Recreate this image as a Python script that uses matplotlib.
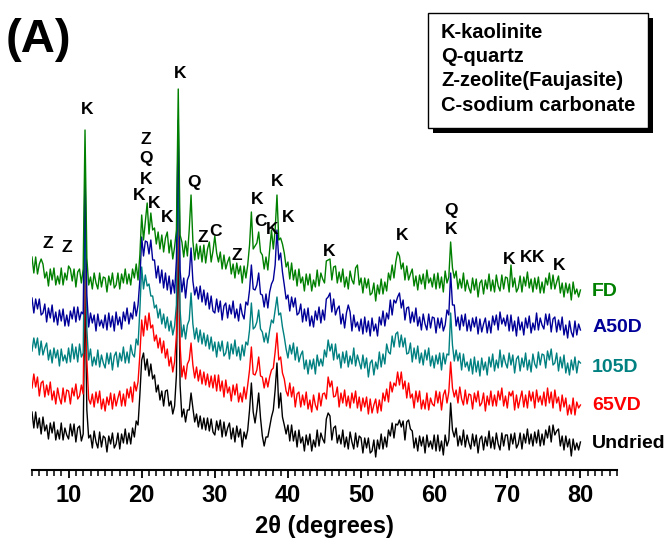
#!/usr/bin/env python3
"""XRD patterns of the dried kaolinite samples, panel (A)."""

import matplotlib

matplotlib.use("Agg")
import matplotlib.pyplot as plt
import numpy as np
from matplotlib.patches import Rectangle
from matplotlib.ticker import MultipleLocator

# 2-theta scan, 5 to 80 degrees in 0.25 degree steps (301 points)
TWO_THETA = 5.0 + 0.25 * np.arange(301)

# stacked intensities (a.u., offsets already applied), one row per 5 degrees
FD = [
    213, 197, 213, 196, 206, 211, 206, 192, 198, 184, 201, 190, 202, 185, 194, 186, 202, 185, 197, 190,
    204, 201, 189, 201, 183, 198, 201, 187, 201, 340, 212, 185, 193, 181, 197, 187, 181, 197, 183, 193,
    192, 178, 194, 185, 197, 182, 185, 197, 181, 196, 187, 201, 186, 196, 185, 201, 192, 206, 190, 215,
    255, 230, 248, 267, 236, 257, 240, 242, 226, 238, 221, 235, 218, 232, 238, 217, 230, 211, 223, 240,
    381, 235, 228, 213, 229, 214, 240, 275, 229, 210, 226, 211, 224, 208, 225, 207, 221, 228, 208, 219,
    234, 217, 208, 218, 201, 215, 201, 208, 213, 196, 206, 192, 207, 196, 204, 187, 204, 192, 205, 225,
    258, 221, 224, 227, 238, 218, 215, 201, 213, 200, 220, 240, 221, 240, 275, 230, 232, 226, 217, 203,
    208, 191, 207, 190, 200, 184, 201, 187, 193, 179, 196, 185, 196, 179, 190, 183, 200, 184, 197, 191,
    187, 209, 210, 211, 190, 203, 204, 187, 198, 188, 201, 183, 193, 181, 199, 190, 186, 202, 205, 185,
    192, 177, 192, 182, 191, 175, 177, 187, 169, 185, 176, 191, 176, 188, 179, 197, 190, 205, 192, 208,
    218, 214, 201, 207, 190, 204, 190, 196, 201, 184, 194, 180, 195, 186, 196, 181, 200, 187, 192, 183,
    196, 181, 197, 182, 193, 178, 199, 187, 193, 228, 202, 192, 199, 181, 191, 182, 197, 179, 190, 182,
    177, 192, 180, 191, 173, 187, 190, 176, 190, 181, 196, 179, 190, 178, 195, 184, 179, 195, 181, 193,
    192, 178, 205, 183, 192, 178, 182, 194, 178, 193, 184, 198, 182, 191, 178, 192, 181, 193, 177, 188,
    177, 192, 185, 197, 181, 195, 181, 188, 194, 177, 187, 173, 187, 177, 186, 170, 188, 176, 181, 173,
    180,
]
A50D = [
    172, 157, 171, 161, 171, 155, 157, 166, 148, 162, 152, 165, 148, 158, 145, 160, 149, 161, 144, 155,
    144, 159, 151, 163, 148, 163, 150, 158, 156, 300, 175, 143, 157, 147, 155, 139, 156, 144, 150, 142,
    155, 140, 157, 143, 154, 139, 158, 145, 153, 141, 158, 149, 162, 146, 157, 151, 168, 154, 165, 190,
    233, 214, 229, 228, 216, 230, 210, 210, 192, 204, 187, 200, 182, 197, 180, 194, 176, 190, 177, 210,
    350, 200, 178, 192, 172, 190, 195, 222, 189, 175, 183, 171, 184, 168, 180, 165, 177, 161, 174, 159,
    157, 171, 158, 169, 150, 164, 167, 152, 165, 156, 169, 152, 161, 149, 166, 156, 151, 168, 165, 180,
    205, 181, 180, 185, 197, 176, 175, 163, 176, 162, 178, 186, 190, 205, 240, 210, 217, 198, 185, 171,
    175, 159, 173, 163, 172, 155, 157, 166, 148, 161, 149, 162, 144, 154, 143, 159, 150, 163, 147, 160,
    150, 171, 173, 177, 158, 171, 155, 161, 164, 146, 156, 142, 157, 165, 158, 139, 155, 143, 148, 139,
    151, 136, 153, 138, 149, 134, 152, 139, 146, 134, 153, 145, 159, 144, 157, 151, 170, 155, 170, 167,
    173, 177, 162, 170, 150, 162, 163, 147, 158, 148, 162, 144, 153, 140, 156, 146, 140, 156, 142, 153,
    152, 137, 152, 142, 152, 139, 145, 160, 155, 197, 165, 165, 144, 153, 140, 155, 144, 156, 139, 150,
    139, 152, 143, 153, 136, 151, 138, 146, 152, 137, 149, 137, 154, 145, 155, 140, 158, 146, 152, 144,
    155, 139, 155, 139, 149, 134, 153, 140, 148, 135, 152, 142, 154, 137, 147, 140, 157, 140, 152, 145,
    141, 156, 145, 156, 138, 151, 153, 138, 150, 140, 153, 135, 145, 132, 149, 138, 133, 149, 135, 146,
    140,
]
D105 = [
    119, 132, 122, 132, 115, 129, 115, 122, 127, 110, 120, 107, 122, 112, 120, 104, 121, 109, 115, 107,
    122, 108, 126, 111, 123, 108, 126, 113, 117, 265, 140, 110, 121, 104, 113, 105, 120, 103, 115, 107,
    102, 117, 106, 117, 100, 114, 118, 103, 117, 109, 123, 107, 118, 107, 125, 116, 113, 131, 125, 160,
    203, 181, 195, 184, 186, 174, 174, 162, 165, 152, 161, 146, 156, 142, 153, 139, 149, 135, 144, 165,
    310, 160, 133, 145, 131, 145, 150, 177, 146, 131, 142, 128, 140, 126, 137, 124, 135, 121, 133, 119,
    128, 113, 128, 119, 129, 114, 117, 128, 111, 126, 116, 130, 114, 123, 110, 125, 114, 128, 125, 140,
    167, 141, 143, 148, 160, 141, 138, 128, 137, 127, 140, 150, 147, 160, 173, 155, 157, 143, 133, 121,
    112, 125, 116, 127, 110, 123, 108, 115, 119, 101, 110, 96, 110, 101, 111, 96, 115, 104, 111, 104,
    120, 113, 130, 119, 126, 110, 126, 111, 116, 102, 118, 107, 119, 103, 114, 106, 122, 104, 115, 108,
    101, 115, 102, 112, 93, 107, 110, 95, 108, 101, 118, 103, 116, 106, 126, 118, 116, 134, 123, 136,
    138, 123, 135, 123, 132, 116, 117, 127, 108, 122, 111, 124, 107, 117, 105, 120, 110, 122, 104, 114,
    102, 115, 106, 117, 100, 117, 106, 116, 115, 157, 125, 109, 120, 109, 117, 100, 116, 103, 108, 99,
    111, 96, 113, 98, 109, 94, 112, 100, 108, 95, 113, 103, 116, 99, 110, 102, 120, 103, 115, 107,
    102, 117, 105, 115, 97, 111, 114, 99, 112, 103, 117, 100, 110, 98, 116, 106, 102, 118, 105, 116,
    115, 102, 119, 110, 121, 105, 107, 117, 99, 113, 102, 115, 97, 107, 95, 110, 100, 113, 97, 109,
    107,
]
VD65 = [
    82, 96, 83, 93, 74, 87, 89, 73, 85, 75, 88, 70, 79, 66, 82, 72, 66, 82, 68, 80,
    79, 66, 82, 74, 86, 71, 74, 85, 76, 230, 110, 71, 66, 76, 63, 78, 67, 79, 61, 71,
    59, 73, 65, 77, 61, 76, 64, 72, 79, 64, 76, 64, 81, 72, 83, 68, 88, 79, 88, 115,
    150, 134, 154, 140, 157, 142, 145, 129, 135, 122, 132, 117, 129, 112, 121, 104, 113, 98, 108, 135,
    280, 125, 93, 104, 91, 106, 110, 127, 105, 92, 103, 89, 100, 86, 98, 85, 96, 83, 94, 82,
    95, 79, 95, 79, 89, 73, 90, 77, 83, 69, 85, 75, 86, 68, 77, 68, 83, 71, 85, 100,
    123, 96, 95, 100, 113, 94, 93, 82, 92, 83, 93, 100, 102, 118, 137, 110, 113, 97, 91, 79,
    74, 87, 73, 83, 63, 76, 78, 63, 75, 65, 78, 61, 70, 58, 75, 65, 60, 77, 64, 76,
    77, 71, 93, 83, 89, 73, 74, 83, 63, 77, 67, 80, 64, 74, 62, 77, 67, 79, 62, 73,
    59, 72, 63, 73, 56, 71, 57, 65, 71, 57, 70, 59, 77, 69, 81, 68, 88, 78, 87, 84,
    98, 85, 98, 81, 89, 72, 87, 72, 76, 62, 79, 68, 79, 61, 70, 61, 77, 60, 72, 66,
    64, 79, 67, 78, 60, 75, 80, 67, 78, 108, 82, 73, 80, 67, 83, 71, 65, 80, 66, 76,
    75, 61, 77, 68, 79, 64, 67, 77, 59, 74, 65, 79, 64, 75, 64, 79, 70, 82, 64, 74,
    62, 78, 74, 79, 60, 75, 62, 71, 79, 63, 75, 62, 79, 69, 78, 62, 80, 68, 74, 65,
    78, 64, 82, 67, 78, 62, 80, 67, 73, 59, 75, 63, 72, 55, 65, 56, 72, 55, 68, 62,
    65,
]
UNDRIED = [
    58, 42, 58, 42, 52, 36, 53, 39, 45, 31, 47, 37, 48, 30, 40, 31, 47, 30, 42, 35,
    31, 46, 34, 46, 28, 42, 44, 29, 36, 185, 60, 32, 35, 22, 39, 28, 22, 38, 23, 34,
    32, 18, 34, 26, 37, 22, 26, 37, 21, 36, 27, 41, 26, 37, 26, 42, 33, 49, 45, 75,
    110, 117, 100, 111, 94, 106, 91, 95, 78, 85, 70, 79, 64, 79, 80, 64, 69, 56, 64, 95,
    245, 85, 53, 61, 48, 60, 60, 77, 62, 48, 56, 43, 54, 41, 52, 40, 52, 39, 51, 38,
    35, 49, 40, 50, 33, 48, 34, 42, 47, 31, 42, 28, 44, 33, 41, 23, 38, 31, 40, 60,
    87, 58, 47, 60, 77, 52, 34, 24, 33, 33, 43, 53, 60, 80, 107, 62, 77, 53, 45, 36,
    45, 29, 45, 29, 39, 23, 40, 27, 33, 19, 35, 25, 36, 19, 30, 23, 40, 24, 37, 31,
    27, 51, 57, 54, 30, 42, 44, 27, 35, 26, 40, 23, 33, 21, 38, 28, 21, 37, 23, 34,
    32, 17, 32, 22, 32, 17, 19, 30, 13, 30, 21, 36, 21, 33, 23, 40, 34, 47, 32, 46,
    45, 50, 43, 49, 30, 48, 50, 41, 39, 22, 32, 19, 34, 24, 33, 17, 35, 23, 29, 21,
    35, 19, 35, 19, 29, 15, 35, 24, 30, 67, 40, 33, 42, 24, 34, 25, 40, 23, 35, 27,
    21, 36, 24, 35, 17, 31, 34, 20, 33, 24, 39, 22, 33, 21, 37, 26, 20, 37, 24, 35,
    35, 20, 36, 26, 37, 22, 26, 37, 21, 36, 27, 41, 26, 36, 24, 38, 27, 40, 24, 36,
    25, 40, 32, 44, 28, 45, 35, 39, 41, 24, 34, 20, 34, 23, 31, 14, 31, 20, 27, 20,
    28,
]

SAMPLES = ["FD", "A50D", "105D", "65VD", "Undried"]
SERIES = [FD, A50D, D105, VD65, UNDRIED]
COLORS = ["#008000", "#000099", "#008080", "#FF0000", "#000000"]
LABEL_Y = [179, 142, 102, 65, 27]

# phase labels: (letter, 2theta, height)
PEAK_LABELS = [
    ("K", 12.5, 360), ("Z", 7.2, 227), ("Z", 9.7, 222),
    ("Z", 20.6, 330), ("Q", 20.6, 311), ("K", 20.6, 291),
    ("K", 19.7, 275), ("K", 21.7, 267), ("K", 23.5, 252),
    ("K", 25.2, 396), ("Q", 27.2, 288), ("Z", 28.4, 233), ("C", 30.1, 238),
    ("Z", 33.0, 214), ("K", 35.8, 270), ("C", 36.3, 248), ("K", 37.9, 240),
    ("K", 38.5, 288), ("K", 40.0, 252), ("K", 45.6, 218), ("K", 55.6, 235),
    ("Q", 62.3, 260), ("K", 62.3, 240), ("K", 70.3, 210), ("K", 72.6, 212),
    ("K", 74.2, 212), ("K", 77.1, 205),
]
PHASES = ["K-kaolinite", "Q-quartz", "Z-zeolite(Faujasite)", "C-sodium carbonate"]

plt.rcParams["font.family"] = ["Liberation Sans", "DejaVu Sans"]

fig = plt.figure(figsize=(6.71, 5.43), dpi=100)
ax = fig.add_axes([32 / 671, 73 / 543, 585 / 671, 390 / 543])

# bottom trace first so the upper patterns sit on top
for name, ys, color in reversed(list(zip(SAMPLES, SERIES, COLORS))):
    ax.plot(TWO_THETA, ys, color=color, linewidth=1.0)

for name, color, ly in zip(SAMPLES, COLORS, LABEL_Y):
    ax.text(81.6, ly, name, color=color, fontsize=14, fontweight="bold",
            ha="left", va="center", clip_on=False)

for letter, px, py in PEAK_LABELS:
    ax.text(px, py, letter, fontsize=12.5, fontweight="bold", ha="center",
            va="center", clip_on=False)

ax.set_xlim(5, 85)
ax.set_ylim(0, 390)
ax.xaxis.set_major_locator(MultipleLocator(10))
ax.xaxis.set_minor_locator(MultipleLocator(1))
ax.tick_params(axis="x", which="major", length=6, width=1.3, pad=4)
ax.tick_params(axis="x", which="minor", length=4, width=1.1)
ax.set_yticks([])
for side in ["left", "right", "top"]:
    ax.spines[side].set_visible(False)
ax.spines["bottom"].set_linewidth(1.5)
for lab in ax.get_xticklabels():
    lab.set_fontweight("bold")
    lab.set_fontsize(17)
ax.set_xlabel("2\u03b8 (degrees)", fontsize=17, fontweight="bold", labelpad=6)

fig.text(38 / 671, 1 - 40 / 543, "(A)", fontsize=34, fontweight="bold", ha="center", va="center")

# phase key box with drop shadow
fig.patches.append(Rectangle((433 / 671, 1 - 133 / 543), 220 / 671, 115 / 543,
                             transform=fig.transFigure, facecolor="black", edgecolor="none"))
fig.patches.append(Rectangle((428 / 671, 1 - 128 / 543), 220 / 671, 115 / 543,
                             transform=fig.transFigure, facecolor="white", edgecolor="black",
                             linewidth=1.0))
for i, phase in enumerate(PHASES):
    fig.text(441 / 671, 1 - (32 + 24.5 * i) / 543, phase, fontsize=14.5, fontweight="bold",
             ha="left", va="center")

fig.savefig("out.png", dpi=100)
